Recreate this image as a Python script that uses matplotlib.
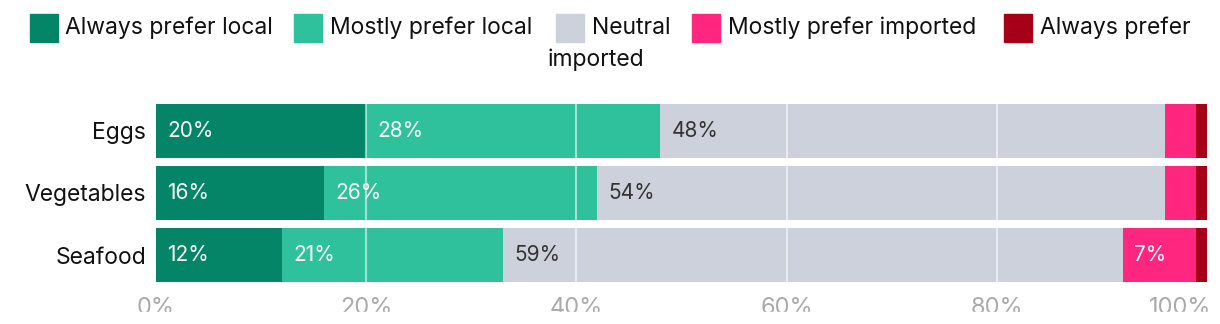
import matplotlib
matplotlib.use('Agg')
import matplotlib.pyplot as plt
import matplotlib.transforms as mtransforms
from matplotlib.patches import Rectangle

plt.rcParams['font.family'] = ['Inter', 'DejaVu Sans']

categories = ['Eggs', 'Vegetables', 'Seafood']
series_names = ['Always prefer local', 'Mostly prefer local', 'Neutral',
                'Mostly prefer imported', 'Always prefer imported']
always_local = [20, 16, 12]
mostly_local = [28, 26, 21]
neutral = [48, 54, 59]
mostly_imported = [3, 3, 7]
always_imported = [1, 1, 1]
series = [always_local, mostly_local, neutral, mostly_imported, always_imported]
colors = ['#048568', '#2fc09c', '#cdd1dc', '#ff2680', '#a50018']
label_colors = ['white', 'white', '#333333', 'white', 'white']
xticks = [0, 20, 40, 60, 80, 100]
xtick_labels = ['0%', '20%', '40%', '60%', '80%', '100%']

W, H = 1220, 324
fig = plt.figure(figsize=(W / 100, H / 100), dpi=100)
# axes placed in pixel terms: x 156..1207, y 100..286
ax = fig.add_axes([156 / W, (H - 286) / H, (1207 - 156) / W, 186 / H])

y = list(range(len(categories)))
left = [0] * len(categories)
for vals, col, lc in zip(series, colors, label_colors):
    ax.barh(y, vals, left=left, height=54 / 62, color=col, zorder=1)
    for i, v in enumerate(vals):
        if v >= 5:
            ax.annotate(f'{v}%', (left[i], i), xytext=(8, 0), textcoords='offset points',
                        va='center', ha='left', color=lc, fontsize=15, zorder=3)
    left = [l + v for l, v in zip(left, vals)]

ax.set_xlim(0, 100)
ax.set_ylim(2.5, -0.5)
ax.set_yticks(y)
ax.set_yticklabels(categories, fontsize=16.5, color='#111111')
ax.set_xticks(xticks)
ax.set_xticklabels(xtick_labels, fontsize=17, color='#aaaaaa')
ax.tick_params(length=0)
ax.tick_params(axis='y', pad=7)
ax.tick_params(axis='x', pad=8)
for s in ax.spines.values():
    s.set_visible(False)
for t in xticks[1:-1]:
    ax.axvline(t, color='white', alpha=0.55, lw=1.5, zorder=2)

# last tick label is pushed left to fit, like the original
last = ax.get_xticklabels()[-1]
last.set_ha('right')
last.set_transform(last.get_transform() + mtransforms.ScaledTranslation(4 / 100, 0, fig.dpi_scale_trans))

# legend drawn by hand (wraps like the original)
sw_x = [30, 294, 556, 692, 1004]
tx_x = [65, 330, 592, 728, 1040]
legend_text = ['Always prefer local', 'Mostly prefer local', 'Neutral',
               'Mostly prefer imported', 'Always prefer']
for sx, tx, col, txt in zip(sw_x, tx_x, colors, legend_text):
    fig.patches.append(Rectangle((sx / W, (H - 42) / H), 28 / W, 28 / H,
                                 transform=fig.transFigure, color=col))
    fig.text(tx / W, (H - 34) / H, txt, fontsize=16.5, color='#111111', va='baseline')
fig.text(548 / W, (H - 66) / H, 'imported', fontsize=16.5, color='#111111', va='baseline')

# bottom and right side of the chart are cut off in the original
fig.patches.append(Rectangle((0, 0), 1, (H - 312) / H, transform=fig.transFigure,
                             color='white', zorder=10))
fig.patches.append(Rectangle((1208 / W, 0), 1, (H - 290) / H, transform=fig.transFigure,
                             color='white', zorder=10))

fig.savefig('out.png', dpi=100)
